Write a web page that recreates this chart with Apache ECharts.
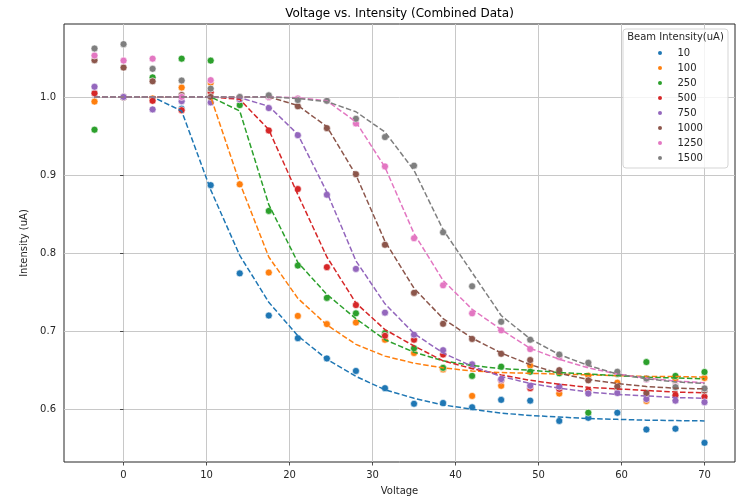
<!DOCTYPE html>
<html>
<head>
<meta charset="utf-8">
<script src="https://cdn.jsdelivr.net/npm/echarts@6/dist/echarts.min.js"></script>
<style>
html,body{margin:0;padding:0;background:#fff;}
#chart{width:749px;height:501px;}
</style>
</head>
<body>
<div id="chart"></div>
<script>
const voltages = [-3.5,0,3.5,7,10.5,14,17.5,21,24.5,28,31.5,35,38.5,42,45.5,49,52.5,56,59.5,63,66.5,70];
const beamNames = ['10','100','250','500','750','1000','1250','1500'];
const xTicks = [0,10,20,30,40,50,60,70];
const yTicks = [0.6,0.7,0.8,0.9,1.0];

const i10   = [1.005,1.0,0.996,0.985,0.887,0.774,0.720,0.691,0.665,0.649,0.627,0.607,0.608,0.6025,0.612,0.611,0.585,0.589,0.5955,0.574,0.575,0.557];
const i100  = [0.994,1.0,0.998,1.012,1.018,0.888,0.775,0.7195,0.709,0.711,0.689,0.672,0.651,0.617,0.630,0.656,0.620,0.643,0.634,0.6106,0.639,0.640];
const i250  = [0.958,1.0,1.025,1.049,1.0465,0.9895,0.854,0.784,0.7426,0.7228,0.6975,0.678,0.653,0.6427,0.6545,0.648,0.646,0.5955,0.645,0.6604,0.6427,0.6477];
const i500  = [1.0047,1.0,0.995,0.983,1.006,0.997,0.957,0.882,0.782,0.7334,0.694,0.689,0.670,0.655,0.637,0.627,0.626,0.624,0.627,0.619,0.618,0.616];
const i750  = [1.013,1.0,0.984,0.9945,0.993,0.997,0.9857,0.951,0.8747,0.7797,0.7237,0.6955,0.6756,0.6575,0.6385,0.630,0.629,0.620,0.6207,0.613,0.611,0.609];
const i1000 = [1.047,1.0376,1.020,1.0025,1.0,1.0,1.0,0.988,0.960,0.901,0.8106,0.749,0.7094,0.690,0.671,0.663,0.650,0.637,0.629,0.6207,0.630,0.624];
const i1250 = [1.053,1.0465,1.049,1.0,1.0215,1.0,1.0,0.998,0.995,0.966,0.911,0.819,0.7587,0.7228,0.701,0.677,0.667,0.658,0.646,0.638,0.629,0.627];
const i1500 = [1.062,1.0676,1.036,1.021,1.0106,1.0,1.002,0.996,0.995,0.972,0.9486,0.912,0.8266,0.7575,0.712,0.689,0.670,0.6595,0.648,0.6393,0.6283,0.6266];

const fit10   = [1,1,1,0.982,0.881,0.797,0.737,0.694,0.664,0.642,0.625,0.614,0.6055,0.600,0.595,0.592,0.590,0.588,0.587,0.586,0.5855,0.585];
const fit100  = [1,1,1,1,1,0.890,0.795,0.742,0.708,0.683,0.668,0.659,0.653,0.649,0.647,0.646,0.645,0.644,0.643,0.642,0.642,0.641];
const fit250  = [1,1,1,1,1,0.982,0.862,0.788,0.747,0.716,0.689,0.673,0.662,0.656,0.652,0.650,0.647,0.645,0.643,0.641,0.640,0.639];
const fit500  = [1,1,1,1,1,0.997,0.958,0.875,0.795,0.736,0.702,0.681,0.662,0.652,0.644,0.637,0.632,0.628,0.626,0.624,0.622,0.621];
const fit750  = [1,1,1,1,1,0.999,0.988,0.952,0.878,0.790,0.735,0.697,0.672,0.655,0.642,0.633,0.627,0.622,0.619,0.617,0.615,0.614];
const fit1000 = [1,1,1,1,1,1,1,0.989,0.962,0.900,0.815,0.755,0.716,0.691,0.672,0.657,0.646,0.638,0.633,0.629,0.627,0.626];
const fit1250 = [1,1,1,1,1,1,1,0.999,0.995,0.968,0.910,0.825,0.765,0.728,0.702,0.678,0.664,0.653,0.645,0.640,0.636,0.634];
const fit1500 = [1,1,1,1,1,1,1,0.998,0.994,0.981,0.955,0.906,0.830,0.775,0.720,0.690,0.670,0.656,0.645,0.639,0.635,0.633];

const colors = ['#1f77b4','#ff7f0e','#2ca02c','#d62728','#9467bd','#8c564b','#e377c2','#7f7f7f'];
const measured = [i10,i100,i250,i500,i750,i1000,i1250,i1500];
const fits = [fit10,fit100,fit250,fit500,fit750,fit1000,fit1250,fit1500];

const FONT = 'DejaVu Sans';
const series = [];
beamNames.forEach((name, k) => {
  series.push({
    name: name,
    type: 'scatter',
    data: voltages.map((v, j) => [v, measured[k][j]]),
    symbol: 'circle',
    symbolSize: 7,
    itemStyle: {color: colors[k], borderColor: '#ffffff', borderWidth: 0.6, opacity: 1},
    z: 2 + k * 0.01
  });
});
beamNames.forEach((name, k) => {
  series.push({
    name: name + ' fit',
    type: 'line',
    data: voltages.map((v, j) => [v, fits[k][j]]),
    showSymbol: false,
    symbol: 'none',
    lineStyle: {color: colors[k], width: 1.5, type: [5.5, 2.4]},
    itemStyle: {color: colors[k]},
    z: 3 + k * 0.01
  });
});

const chart = echarts.init(document.getElementById('chart'), null, {renderer: 'canvas'});
chart.setOption({
  animation: false,
  backgroundColor: '#ffffff',
  textStyle: {fontFamily: FONT},
  grid: {left: 64, right: 14, top: 24, bottom: 34, show: true, borderColor: '#262626', borderWidth: 1, backgroundColor: 'transparent'},
  xAxis: {
    type: 'value',
    min: -7.175, max: 73.675,
    name: 'Voltage',
    nameLocation: 'middle',
    nameGap: 24,
    nameTextStyle: {fontFamily: FONT, fontSize: 10, color: '#262626'},
    axisLine: {show: false},
    axisTick: {show: true, inside: false, length: 3.5, customValues: xTicks, lineStyle: {color: '#262626', width: 0.8}},
    axisLabel: {customValues: xTicks, margin: 8, fontFamily: FONT, fontSize: 10, color: '#262626', formatter: v => String(v)},
    splitLine: {show: true, lineStyle: {color: '#c8c8c8', width: 1}}
  },
  yAxis: {
    type: 'value',
    min: 0.5324, max: 1.0934,
    name: 'Intensity (uA)',
    nameLocation: 'middle',
    nameGap: 27,
    nameRotate: 90,
    nameTextStyle: {fontFamily: FONT, fontSize: 10, color: '#262626'},
    axisLine: {show: false},
    axisTick: {show: true, inside: false, length: 3.5, customValues: yTicks, lineStyle: {color: '#262626', width: 0.8}},
    axisLabel: {customValues: yTicks, margin: 8, fontFamily: FONT, fontSize: 10, color: '#262626', formatter: v => v.toFixed(1)},
    splitLine: {show: true, lineStyle: {color: '#c8c8c8', width: 1}}
  },
  legend: {
    data: beamNames,
    orient: 'vertical',
    left: 656,
    top: 47,
    padding: 0,
    itemWidth: 25,
    itemHeight: 6,
    itemGap: 3,
    icon: 'circle',
    selectedMode: false,
    textStyle: {fontFamily: FONT, fontSize: 10, color: '#262626', lineHeight: 12},
    z: 60
  },
  graphic: [
    {type: 'text', z: 60, style: {text: 'Voltage vs. Intensity (Combined Data)', x: 399.5, y: 14, textAlign: 'center', textVerticalAlign: 'middle', font: '12px "DejaVu Sans"', fill: '#000000'}},
    {type: 'rect', z: 50, shape: {x: 623, y: 29, width: 105, height: 139, r: 3}, style: {fill: 'rgba(255,255,255,0.8)', stroke: '#d5d5d5', lineWidth: 1}},
    {type: 'text', z: 60, style: {text: 'Beam Intensity(uA)', x: 675.5, y: 37.5, textAlign: 'center', textVerticalAlign: 'middle', font: '10px "DejaVu Sans"', fill: '#262626'}}
  ],
  series: series
});
</script>
</body>
</html>
